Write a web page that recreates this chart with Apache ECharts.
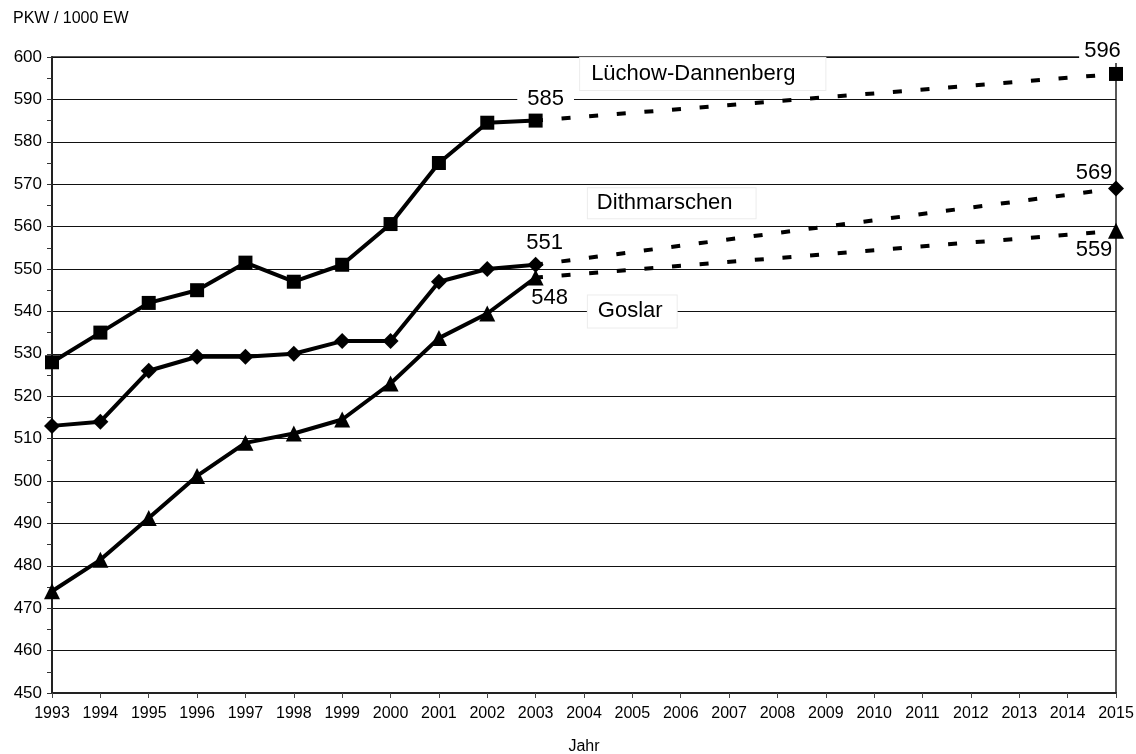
<!DOCTYPE html>
<html>
<head>
<meta charset="utf-8">
<title>PKW-Dichte 1993–2015</title>
<script src="https://cdn.jsdelivr.net/npm/echarts@6/dist/echarts.min.js"></script>
<style>
  html, body { margin: 0; padding: 0; background: #fff; }
  #chart { width: 1136px; height: 754px; }
</style>
</head>
<body>
<div id="chart"></div>
<script>
// Years on the x axis
const years = ['1993', '1994', '1995', '1996', '1997', '1998', '1999', '2000',
  '2001', '2002', '2003', '2004', '2005', '2006', '2007', '2008', '2009',
  '2010', '2011', '2012', '2013', '2014', '2015'];

// Observed car density (PKW per 1000 inhabitants), 1993–2003
const luechow = [528, 535, 542, 545, 551.5, 547, 551, 560.6, 575, 584.5, 585];
const dithmarschen = [513, 514, 526, 529.3, 529.3, 530, 533, 533, 547, 550, 551];
const goslar = [474, 481.4, 491.3, 501.2, 509, 511.2, 514.5, 523, 533.7, 539.5, 548];

// Projection from 2003 to 2015
const forecastYears = ['2003', '2015'];
const forecastLuechow = [585, 596];
const forecastDithmarschen = [551, 569];
const forecastGoslar = [548, 559];

// Y axis range
const yMin = 450, yMax = 600, yStep = 10;

const FONT = '"Liberation Sans", Arial, Helvetica, sans-serif';
const INK = '#000';

const valueLabel = (offset, bg, pad) => ({
  show: true,
  position: 'inside',
  offset: offset,
  formatter: '{c}',
  color: INK,
  fontFamily: FONT,
  fontSize: 22,
  backgroundColor: bg || 'transparent',
  padding: pad || 0
});

// Solid observed line; value label on the last observed point
function observed(name, values, symbol, size, label) {
  return {
    name: name,
    type: 'line',
    data: values.map((v, i) => i === values.length - 1 ? { value: v, label: label } : v),
    symbol: symbol,
    symbolSize: size,
    itemStyle: { color: INK },
    lineStyle: { color: INK, width: 4 },
    z: 3,
    animation: false
  };
}

// Dashed projection line; marker and value label only at the end year
function projection(name, values, symbol, size, label) {
  const data = years.map(() => null);
  forecastYears.forEach((y, k) => {
    const idx = years.indexOf(y);
    data[idx] = k === forecastYears.length - 1
      ? { value: values[k], symbol: symbol, symbolSize: size, label: label }
      : { value: values[k], symbol: 'none' };
  });
  return {
    name: name + ' Prognose',
    type: 'line',
    data: data,
    connectNulls: true,
    showSymbol: true,
    symbol: 'none',
    itemStyle: { color: INK },
    lineStyle: { color: INK, width: 4, type: [9, 18.7], dashOffset: 1.7, cap: 'butt' },
    z: 3,
    animation: false
  };
}

const chart = echarts.init(document.getElementById('chart'), null, { renderer: 'canvas' });

chart.setOption({
  backgroundColor: '#fff',
  animation: false,
  title: {
    text: 'PKW / 1000 EW',
    left: 8,
    top: 6,
    textStyle: { fontFamily: FONT, fontSize: 16, fontWeight: 'normal', color: INK }
  },
  grid: {
    left: 52, right: 20, top: 57, bottom: 61,
    outerBoundsMode: 'none',
    containLabel: false,
    show: true, borderColor: '#222', borderWidth: 1.5, backgroundColor: 'transparent'
  },
  xAxis: {
    type: 'category',
    data: years,
    boundaryGap: false,
    name: 'Jahr',
    nameLocation: 'middle',
    nameGap: 46,
    nameTextStyle: { fontFamily: FONT, fontSize: 16, color: INK },
    axisLine: { lineStyle: { color: '#222', width: 2 } },
    axisTick: { show: true, alignWithLabel: true, length: 5, lineStyle: { color: '#444' } },
    axisLabel: { fontFamily: FONT, fontSize: 16, color: INK, margin: 13, interval: 0 },
    splitLine: { show: false }
  },
  yAxis: {
    type: 'value',
    min: yMin, max: yMax, interval: yStep,
    axisLine: { show: true, lineStyle: { color: '#222', width: 2 } },
    axisTick: { show: true, length: 5, lineStyle: { color: '#333' } },
    minorTick: { show: true, splitNumber: 2, length: 5, lineStyle: { color: '#333' } },
    axisLabel: { fontFamily: FONT, fontSize: 17, color: INK, margin: 10 },
    splitLine: { show: true, lineStyle: { color: '#111', width: 1.2 } }
  },
  series: [
    observed('Lüchow-Dannenberg', luechow, 'rect', 14,
      valueLabel([10, -22], '#fff', [1, 10])),
    observed('Dithmarschen', dithmarschen, 'diamond', 16,
      valueLabel([9, -22])),
    observed('Goslar', goslar, 'triangle', 16,
      valueLabel([14, 20])),
    projection('Lüchow-Dannenberg', forecastLuechow, 'rect', 14,
      valueLabel([-14, -23], '#fff', [1, 4, 1, 5])),
    projection('Dithmarschen', forecastDithmarschen, 'diamond', 16,
      valueLabel([-22, -16])),
    projection('Goslar', forecastGoslar, 'triangle', 16,
      valueLabel([-22, 19]))
  ]
});

// Series name tags placed in data space: position is a fractional year index
// (left edge of the tag) and the value at the tag's vertical middle.
const seriesTags = [
  { text: 'Lüchow-Dannenberg', at: 10.92, value: 596, padding: [5, 30, 5, 11] },
  { text: 'Dithmarschen', at: 11.08, value: 565.5, padding: [4, 23, 4, 9] },
  { text: 'Goslar', at: 11.08, value: 540, padding: [5, 14, 5, 10] }
];

function toPixel(at, value) {
  const i0 = Math.floor(at), i1 = Math.min(i0 + 1, years.length - 1);
  const p0 = chart.convertToPixel({ gridIndex: 0 }, [years[i0], value]);
  const p1 = chart.convertToPixel({ gridIndex: 0 }, [years[i1], value]);
  const f = at - i0;
  return [p0[0] + (p1[0] - p0[0]) * f, p0[1]];
}

chart.setOption({
  graphic: seriesTags.map(t => {
    const p = toPixel(t.at, t.value);
    return {
      type: 'text',
      x: p[0],
      y: p[1],
      z: 10,
      style: {
        text: t.text,
        font: '22px ' + FONT,
        fill: INK,
        align: 'left',
        verticalAlign: 'middle',
        backgroundColor: '#fff',
        borderColor: '#ececec',
        borderWidth: 1,
        padding: t.padding
      }
    };
  })
});
</script>
</body>
</html>
